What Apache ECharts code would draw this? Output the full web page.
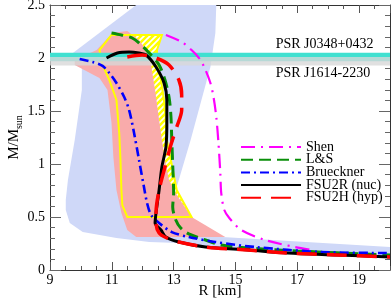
<!DOCTYPE html>
<html><head><meta charset="utf-8">
<script src="https://cdn.jsdelivr.net/npm/echarts@6/dist/echarts.min.js"></script>
<style>html,body{margin:0;padding:0;background:#fff}#c{width:391px;height:299px}</style>
</head><body><div id="c"></div>
<script>
// ---- tick labels ----
const xTickLabels = [9, 11, 13, 15, 17, 19];
const yTickLabels = [0, 0.5, 1, 1.5, 2, 2.5];
const xMax = 20;

// ---- mass-radius curves [R km, M/Msun] ----
const shenData = [[12.75,2.217],[13.26,2.151],[13.58,2.075],[13.87,1.981],[14.03,1.887],[14.19,1.764],[14.29,1.632],[14.38,1.443],[14.45,1.198],[14.51,0.915],[14.54,0.726],[14.64,0.566],[14.80,0.491],[15.19,0.377],[15.96,0.283],[16.92,0.217],[17.49,0.189]];
const lsData = [[10.99,2.236],[11.31,2.217],[11.66,2.189],[11.95,2.123],[12.21,2.047],[12.53,1.934],[12.72,1.792],[12.85,1.632],[12.91,1.462],[12.94,1.226],[12.97,0.991],[13.0,0.726],[12.97,0.594],[13.07,0.472],[13.23,0.396],[13.49,0.340],[14.03,0.283],[14.54,0.236],[15.41,0.208],[17.01,0.179],[20,0.142]];
const bruecknerData = [[9.96,1.99],[10.38,1.962],[10.70,1.925],[10.92,1.858],[11.15,1.764],[11.40,1.632],[11.56,1.509],[11.72,1.292],[11.88,1.038],[12.04,0.783],[12.14,0.632],[12.27,0.519],[12.53,0.443],[12.94,0.358],[13.49,0.311],[14.35,0.264],[15.63,0.217],[17.75,0.170],[20,0.160]];
const fsu2rData = [[10.83,2.00],[11.18,2.047],[11.56,2.057],[11.88,2.047],[12.11,2.028],[12.43,1.915],[12.69,1.764],[12.78,1.604],[12.78,1.387],[12.75,1.160],[12.62,0.972],[12.53,0.755],[12.43,0.538],[12.40,0.443],[12.59,0.377],[12.75,0.311],[13.17,0.264],[14.03,0.217],[15.41,0.189],[16.69,0.160],[18.29,0.142],[20,0.123]];
const fsu2hData = [[11.5,2.01],[11.98,2.028],[12.43,2.0],[12.85,1.934],[13.17,1.792],[13.26,1.651],[13.26,1.509],[13.10,1.349],[12.91,1.179],[12.72,0.972],[12.53,0.755],[12.43,0.538],[12.43,0.443],[12.53,0.349],[12.78,0.302],[13.17,0.264],[14.03,0.217],[15.41,0.189],[16.69,0.160],[18.29,0.142],[20,0.123]];

// ---- shaded constraint regions [R, M] ----
const blueRegion = [[11.79,2.5],[14.38,2.5],[14.35,2.236],[14.19,1.915],[13.90,1.604],[13.55,1.226],[13.10,0.783],[13.0,0.57],[13.49,0.33],[20,0.217],[20,0.123],[15.41,0.189],[14.03,0.217],[13.17,0.255],[12.21,0.264],[11.15,0.302],[10.06,0.358],[9.64,0.443],[9.51,0.566],[9.51,0.66],[9.58,0.849],[9.80,1.226],[10.03,1.698],[10.03,1.934],[9.74,2.047]];
const pinkRegion = [[11.02,2.236],[11.5,2.255],[11.88,2.17],[12.11,2.075],[12.27,1.934],[12.40,1.698],[12.53,1.415],[12.62,1.226],[12.72,1.038],[12.85,0.849],[13.10,0.708],[13.58,0.5],[14.67,0.311],[11.79,0.311],[11.5,0.377],[11.31,0.538],[11.15,0.755],[11.05,1.066],[10.99,1.387],[10.86,1.698],[10.60,1.811],[9.80,1.934],[9.80,1.98],[10.51,2.075]];
const yellowRegion = [[10.987,2.217],[12.622,2.217],[12.462,2.075],[12.462,1.934],[12.590,1.792],[12.686,1.604],[12.75,1.415],[12.78,1.226],[12.91,1.038],[13.006,0.896],[13.10,0.755],[13.58,0.5],[11.5,0.5],[11.34,0.613],[11.31,0.755],[11.28,1.038],[11.24,1.292],[11.15,1.604],[10.92,1.792],[10.70,1.934],[10.60,2.075]];

// ---- pulsar mass bands [low, high] ----
const psrNames = ['PSR J0348+0432', 'PSR J1614-2230'];
const psrBands = [[1.97, 2.05], [1.93, 2.01]];

const FONT = '"Liberation Serif","DejaVu Serif",serif';

function makeHatch() {
  const c = document.createElement('canvas');
  c.width = 6; c.height = 6;
  const g = c.getContext('2d');
  g.fillStyle = '#ffff00'; g.fillRect(0, 0, 6, 6);
  g.strokeStyle = '#ffffff'; g.lineWidth = 1.7;
  g.beginPath();
  g.moveTo(-1, 7); g.lineTo(7, -1);
  g.moveTo(-1, 1); g.lineTo(1, -1);
  g.moveTo(5, 7); g.lineTo(7, 5);
  g.stroke();
  return c;
}
const hatch = makeHatch();

function polygonSeries(points, style, z) {
  return {
    type: 'custom', coordinateSystem: 'cartesian2d', silent: true, z: z,
    data: [points[0]],
    renderItem: function (params, api) {
      return { type: 'polygon', shape: { points: points.map(p => api.coord(p)) }, style: style };
    }
  };
}

function bandSeries(idx, color, z) {
  const b = psrBands[idx];
  return {
    type: 'custom', coordinateSystem: 'cartesian2d', silent: true, z: z,
    data: [[xTickLabels[0], b[0]]],
    renderItem: function (params, api) {
      const p1 = api.coord([xTickLabels[0], b[1]]);
      const p2 = api.coord([xMax, b[0]]);
      return { type: 'rect', shape: { x: p1[0], y: p1[1], width: p2[0] - p1[0], height: p2[1] - p1[1] }, style: { fill: color } };
    }
  };
}

function labelSeries(z) {
  return {
    type: 'custom', coordinateSystem: 'cartesian2d', silent: true, z: z,
    data: [[16.3, psrBands[0][1]]],
    renderItem: function (params, api) {
      const a = api.coord([16.3, psrBands[0][1]]);
      const b = api.coord([16.3, psrBands[1][0]]);
      return { type: 'group', children: [
        { type: 'text', x: a[0], y: a[1] - 1, style: { text: psrNames[0], font: '14px ' + FONT, fill: '#000', verticalAlign: 'bottom', align: 'left' } },
        { type: 'text', x: b[0], y: b[1] + 1, style: { text: psrNames[1], font: '14px ' + FONT, fill: '#000', verticalAlign: 'top', align: 'left' } }
      ] };
    }
  };
}

function curve(name, data, color, width, dash, z) {
  return {
    name: name, type: 'line', data: data, showSymbol: false, symbol: 'none', smooth: 0.3, z: z,
    lineStyle: { color: color, width: width, type: dash, cap: 'butt' }, itemStyle: { color: color }
  };
}

const axisCol = '#333';
const xStep = xTickLabels[1] - xTickLabels[0];
const yStep = yTickLabels[1] - yTickLabels[0];
function xAx(pos, step, len, labels, line) {
  return {
    type: 'value', position: pos, min: xTickLabels[0], max: xMax, interval: step,
    axisLine: { show: line, onZero: false, lineStyle: { color: axisCol, width: 1 } },
    axisTick: { show: true, inside: true, length: len, lineStyle: { color: '#555' } },
    splitLine: { show: false },
    axisLabel: labels ? { show: true, showMaxLabel: false, fontFamily: FONT, fontSize: 14, color: '#000', margin: 3 } : { show: false },
    name: (labels ? 'R [km]' : ''), nameLocation: 'middle', nameGap: 14, nameMoveOverlap: false,
    nameTextStyle: { fontFamily: FONT, fontSize: 15, color: '#000' }
  };
}
function yAx(pos, labels) {
  return {
    type: 'value', position: pos, min: yTickLabels[0], max: yTickLabels[yTickLabels.length - 1], interval: yStep,
    axisLine: { show: true, onZero: false, lineStyle: { color: axisCol, width: 1 } },
    axisTick: { show: true, inside: true, length: 11, lineStyle: { color: '#666' } },
    minorTick: { show: true, splitNumber: 5, length: 5, lineStyle: { color: '#666' } },
    splitLine: { show: false }, minorSplitLine: { show: false },
    axisLabel: labels ? { show: true, fontFamily: FONT, fontSize: 14, color: '#000', margin: 5 } : { show: false },
    name: labels ? 'M/M{s|sun}' : '', nameLocation: 'middle', nameRotate: 90, nameGap: 26, nameMoveOverlap: false,
    nameTextStyle: { fontFamily: FONT, fontSize: 15, color: '#000', rich: { s: { fontFamily: FONT, fontSize: 10, color: '#000', padding: [9, 0, 0, 0] } } }
  };
}

const chart = echarts.init(document.getElementById('c'), null, { renderer: 'canvas' });
chart.setOption({
  animation: false,
  backgroundColor: '#fff',
  grid: { left: 50, right: 1, top: 5, bottom: 29, containLabel: false, outerBoundsMode: 'none' },
  xAxis: [xAx('bottom', xStep, 8, true, true), xAx('bottom', xStep / 4, 4, false, false), xAx('top', xStep, 8, false, true), xAx('top', xStep / 4, 4, false, false)],
  yAxis: [yAx('left', true), yAx('right', false)],
  legend: {
    data: ['Shen', 'L&S', 'Brueckner', 'FSU2R (nuc)', 'FSU2H (hyp)'],
    orient: 'vertical', left: 240, top: 140, padding: 0, itemWidth: 60, itemHeight: 12, itemGap: -1.3,
    itemStyle: { opacity: 0 },
    textStyle: { fontFamily: FONT, fontSize: 14, color: '#000' }
  },
  series: [
    polygonSeries(blueRegion, { fill: '#cfd8f8' }, 1),
    polygonSeries(yellowRegion, { fill: { image: hatch, repeat: 'repeat' } }, 2),
    polygonSeries(pinkRegion, { fill: '#f9abab' }, 3),
    polygonSeries(yellowRegion, { fill: null, stroke: '#ffff00', lineWidth: 2 }, 4),
    bandSeries(0, '#40e0d0', 5),
    bandSeries(1, 'rgba(215,215,215,0.78)', 6),
    labelSeries(7),
    curve('Shen', shenData, '#ff00ff', 2.2, [14, 6, 2, 6], 10),
    curve('L&S', lsData, '#0a8f0a', 3, [12, 6], 11),
    curve('Brueckner', bruecknerData, '#0000ff', 2.6, [9, 4, 2, 4], 12),
    curve('FSU2R (nuc)', fsu2rData, '#000000', 3, 'solid', 13),
    curve('FSU2H (hyp)', fsu2hData, '#ff0000', 3.5, [20, 10], 14)
  ]
});
</script></body></html>
